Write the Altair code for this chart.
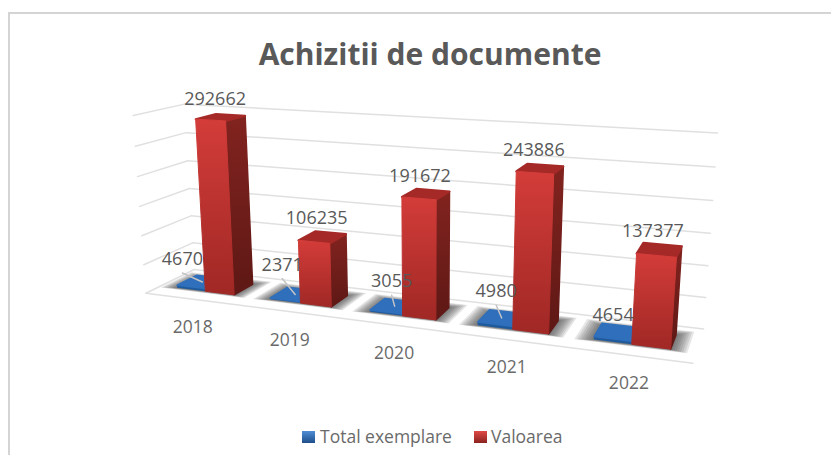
import altair as alt
import numpy as np
import pandas as pd

years = ["2018", "2019", "2020", "2021", "2022"]
total_exemplare = [4670, 2371, 3055, 4980, 4654]
valoarea = [292662, 106235, 191672, 243886, 137377]
grid_values = [0, 50000, 100000, 150000, 200000, 250000, 300000]
title_text = "Achizitii de documente"
series_names = ["Total exemplare", "Valoarea"]
leader_shown = [True, True, True, True, False]
blue_label_dx = [-20, -13, -3, -5.5, -4]
blue_label_dy = [-21, -28, -23, -25, -15]

OX, OY = 8, 8   # page margin
VMAX = 300000.0

# perspective camera, calibrated on the ends of the chart's walls (world: category, depth, value share)
calib = [
    ((0, 0, 0), (147, 293)), ((0, 0, 1/6), (144, 264)), ((0, 0, 2/6), (142, 236)), ((0, 0, 3/6), (140, 207)),
    ((0, 0, 4/6), (137, 177)), ((0, 0, 5/6), (135, 147)), ((0, 0, 1), (132, 115)),
    ((0, 1, 0), (193, 270)), ((0, 1, 1/6), (192, 243)), ((0, 1, 2/6), (191, 216)), ((0, 1, 3/6), (190, 188)),
    ((0, 1, 4/6), (188, 160)), ((0, 1, 5/6), (187, 132)), ((0, 1, 1), (185, 105)),
    ((5, 1, 0), (703, 329)), ((5, 1, 1/6), (706, 298)), ((5, 1, 2/6), (708, 266)), ((5, 1, 3/6), (711, 233)),
    ((5, 1, 4/6), (713, 200)), ((5, 1, 5/6), (715, 167)), ((5, 1, 1), (717, 133)),
    ((5, 0, 0), (693, 363)),
]
rows = []
for (X, Y, Z), (x, y) in calib:
    x, y = x / 1000, y / 1000
    rows.append([X, Y, Z, 1, 0, 0, 0, 0, -x*X, -x*Y, -x*Z, -x])
    rows.append([0, 0, 0, 0, X, Y, Z, 1, -y*X, -y*Y, -y*Z, -y])
P = np.linalg.svd(np.array(rows, float))[2][-1].reshape(3, 4)


def proj(u, v, z):
    p = P @ np.array([u, v, z, 1.0])
    return [float(p[0] / p[2] * 1000 - OX), float(p[1] / p[2] * 1000 - OY)]


def feature(pts):
    ring = [list(p) for p in pts] + [list(pts[0])]
    return {"type": "Feature", "properties": {}, "geometry": {"type": "Polygon", "coordinates": [ring]}}


def box_faces(u0, u1, v0, v1, z):
    front = [proj(u0, v0, 0), proj(u1, v0, 0), proj(u1, v0, z), proj(u0, v0, z)]
    side = [proj(u1, v0, 0), proj(u1, v1, 0), proj(u1, v1, z), proj(u1, v0, z)]
    top = [proj(u0, v0, z), proj(u1, v0, z), proj(u1, v1, z), proj(u0, v1, z)]
    return feature(front), feature(side), feature(top)


def grad(top, bottom):
    return alt.LinearGradient(gradient="linear", x1=0, x2=0, y1=0, y2=1,
                              stops=[alt.GradientStop(color=top, offset=0), alt.GradientStop(color=bottom, offset=1)])


IDENT = dict(type="identity", scale=1, translate=[0, 0])


def shapes(features, **mark):
    return alt.Chart(alt.Data(values=features)).mark_geoshape(**mark).project(**IDENT)


def lines(segs, color, width):
    df = pd.DataFrame([{"x": a[0], "y": a[1], "x2": b[0], "y2": b[1]} for a, b in segs])
    return alt.Chart(df).mark_rule(color=color, strokeWidth=width, strokeCap="round").encode(
        x=alt.X("x:Q", scale=None, axis=None), y=alt.Y("y:Q", scale=None, axis=None),
        x2="x2:Q", y2="y2:Q")


def texts(rows_, size, weight="normal", color="#595959", align="center"):
    df = pd.DataFrame(rows_, columns=["x", "y", "t"])
    return alt.Chart(df).mark_text(font="Open Sans", fontSize=size, fontWeight=weight, color=color,
                                   align=align, baseline="middle").encode(
        x=alt.X("x:Q", scale=None, axis=None), y=alt.Y("y:Q", scale=None, axis=None), text="t:N")


BLUE_U, RED_U, BAR_W = 0.18, 0.49, 0.31
V0, V1 = 0.30, 0.72
VL = 0.54   # depth at which the data labels are anchored

# walls and floor
segs = []
for g in grid_values:
    z = g / VMAX
    segs.append((proj(0, 0, z), proj(0, 1, z)))
    segs.append((proj(0, 1, z), proj(5, 1, z)))
segs.append((proj(0, 0, 0), proj(5, 0, 0)))
layers = [lines(segs, "#e0e0e0", 1.5)]

# soft shadows on the floor
for k in range(1, 9):
    e = 0.012 * (9 - k)
    feats = [feature([proj(i + BLUE_U - e * 1.6, V0 - e * 0.6, 0), proj(i + RED_U + BAR_W + e * 1.4, V0 - e * 0.6, 0),
                      proj(i + RED_U + BAR_W + e * 1.4, V1 + e * 1.7, 0), proj(i + BLUE_U - e * 1.6, V1 + e * 1.7, 0)])
             for i in range(5)]
    layers.append(shapes(feats, fill="#404040", fillOpacity=0.13, stroke=None))

blue = [box_faces(i + BLUE_U, i + BLUE_U + BAR_W, V0, V1, total_exemplare[i] / VMAX) for i in range(5)]
red = [box_faces(i + RED_U, i + RED_U + BAR_W, V0, V1, valoarea[i] / VMAX) for i in range(5)]

layers.append(shapes([b[0] for b in blue], fill="#1f5a9c", stroke=None))
layers.append(shapes([b[1] for b in blue], fill="#1b4f8a", stroke=None))
layers.append(shapes([b[2] for b in blue], fill="#2f6fbb", stroke="#2f6fbb", strokeWidth=1.5, strokeJoin="round"))
layers.append(shapes([r[1] for r in red], fill=grad("#82231f", "#5e1815"), stroke=grad("#82231f", "#5e1815"),
                     strokeWidth=1.5, strokeJoin="round"))
layers.append(shapes([r[2] for r in red], fill="#a52a27", stroke="#a52a27", strokeWidth=2, strokeJoin="round"))
layers.append(shapes([r[0] for r in red], fill=grad("#d33c39", "#a02825"), stroke=grad("#d33c39", "#a02825"),
                     strokeWidth=1, strokeJoin="round"))

# leader lines, data labels, category labels
blue_lab, red_lab, cat_lab, lead = [], [], [], []
for i in range(5):
    bx, by = proj(i + BLUE_U + BAR_W / 2, VL, total_exemplare[i] / VMAX)
    rx, ry = proj(i + RED_U + BAR_W / 2, VL, valoarea[i] / VMAX)
    cx, cy = proj(i + 0.5, 0, 0)
    lx, ly = bx + blue_label_dx[i], by + blue_label_dy[i]
    blue_lab.append([lx, ly, str(total_exemplare[i])])
    red_lab.append([rx - 7, ry - 17, str(valoarea[i])])
    cat_lab.append([cx + 1, cy + 29, years[i]])
    if leader_shown[i]:
        lead.append(([lx, ly + 13], [bx, by + 1]))
layers.append(lines(lead, "#c4c4c4", 1.5))
layers.append(texts(blue_lab, 18))
layers.append(texts(red_lab, 18))
layers.append(texts(cat_lab, 17.5, color="#6a6a6a"))
layers.append(texts([[430 - OX, 56 - OY, title_text]], 30, weight="bold"))


# legend
def swatch(x0, c1, c2):
    df = pd.DataFrame([{"a": x0 - OX, "b": x0 + 13 - OX, "c": 431 - OY, "d": 443 - OY}])
    return alt.Chart(df).mark_rect(fill=grad(c1, c2)).encode(
        x=alt.X("a:Q", scale=None, axis=None), x2="b:Q",
        y=alt.Y("c:Q", scale=None, axis=None), y2="d:Q")


layers.append(swatch(302, "#4f8fd6", "#1f4f8a"))
layers.append(swatch(474, "#e04a46", "#8a2320"))
layers.append(texts([[320 - OX, 438 - OY, series_names[0]], [491 - OX, 438 - OY, series_names[1]]],
                    17.5, color="#6a6a6a", align="left"))

# frame of the picture
layers.append(lines([([1, 5], [823, 5]), ([1, 5], [1, 447])], "#d4d4d4", 2))

chart = alt.layer(*layers).properties(
    width=823, height=447, padding=0, autosize=alt.AutoSizeParams(type="none"), background="white"
).configure_view(stroke=None)

chart.save("out.html", embed_options={"renderer": "svg", "actions": False})
